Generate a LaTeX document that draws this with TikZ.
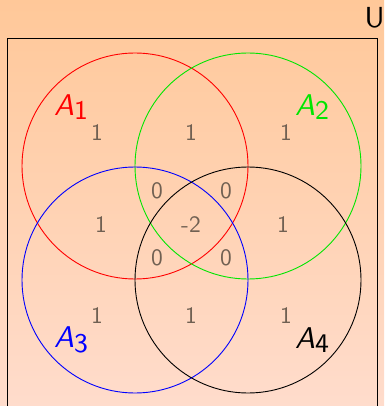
\documentclass[tikz,border=0pt]{standalone}
\usepackage{tikz}
\definecolor{bgtop}{RGB}{255,200,153}
\definecolor{bgbot}{RGB}{255,220,204}
\definecolor{numcol}{RGB}{112,96,82}
\definecolor{agreen}{RGB}{0,230,0}
\tikzset{
  num/.style={text=numcol,font=\sffamily,inner sep=0pt,scale=2.35},
  lab/.style={font=\sffamily,inner sep=0pt,scale=3.0},
  ulab/.style={font=\sffamily,inner sep=0pt,scale=2.9},
  setc/.style={line width=0.9pt}
}
\newcommand{\Alab}[1]{\textit{A}\raisebox{-0.35ex}{\small #1}}
\begin{document}
\begin{tikzpicture}[x=1pt,y=-1pt]
\useasboundingbox (0,0) rectangle (384,406);
\shade[top color=bgtop,bottom color=bgbot] (0,0) rectangle (384,406);
\node[ulab] (u) at (374.5,17.5) {U};
\draw[line width=0.9pt] (7,38.5) rectangle (377,420);
\draw[setc,red] (135,166) circle[radius=113];
\draw[setc,agreen] (248,166) circle[radius=113];
\draw[setc,blue] (135,280) circle[radius=113];
\draw[setc,black] (248,280) circle[radius=113];
\node[lab,red] (a1) at (71,107) {\Alab{1}};
\node[lab,agreen] (a2) at (312,107) {\Alab{2}};
\node[lab,blue] (a3) at (71,340) {\Alab{3}};
\node[lab,black] (a4) at (312,340) {\Alab{4}};
\node[num] (n1) at (97,133) {1};
\node[num] (n2) at (191,133) {1};
\node[num] (n3) at (286,133) {1};
\node[num] (n4) at (157,191) {0};
\node[num] (n5) at (226,191) {0};
\node[num] (n6) at (101,225) {1};
\node[num] (n7) at (191,225) {-2};
\node[num] (n8) at (283,225) {1};
\node[num] (n9) at (157,258) {0};
\node[num] (n10) at (226,258) {0};
\node[num] (n11) at (97,316) {1};
\node[num] (n12) at (191,316) {1};
\node[num] (n13) at (286,316) {1};
\end{tikzpicture}
\end{document}
